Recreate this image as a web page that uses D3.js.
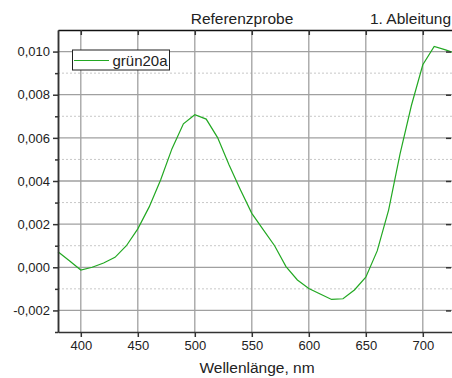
<!DOCTYPE html>
<html>
<head>
<script src="https://d3js.org/d3.v7.min.js"></script>
<style>
  body { margin: 0; background: #fff; }
  text { font-family: "Liberation Sans", Arial, sans-serif; fill: #222; }
</style>
</head>
<body>
<svg width="452" height="378"></svg>
<script>
// wavelength (nm) and first derivative values
var wavelength = [380, 390, 400, 410, 420, 430, 440, 450, 460, 470, 480, 490, 500, 510, 520, 530, 540, 550,
                  560, 570, 580, 590, 600, 610, 620, 630, 640, 650, 660, 670, 680, 690, 700, 710, 720, 730];
var gruen20a = [0.00072, 0.00030, -0.00013, 0.00000, 0.00020, 0.00046, 0.00100, 0.00178, 0.00280, 0.00405,
                0.00550, 0.00665, 0.00707, 0.00687, 0.00601, 0.00475, 0.00360, 0.00250,
                0.00175, 0.00100, 0.00003, -0.00059, -0.00098, -0.00124, -0.00149, -0.00146, -0.00105, -0.00046,
                0.00076, 0.00265, 0.00525, 0.00750, 0.00939, 0.01024, 0.01008, 0.00990];
var xTicks = [400, 450, 500, 550, 600, 650, 700];
var yTicks = [-0.002, 0, 0.002, 0.004, 0.006, 0.008, 0.010];
var yMinor = [-0.003, -0.001, 0.001, 0.003, 0.005, 0.007, 0.009];

var svg = d3.select("svg");
var pLeft = 58, pRight = 457, pTop = 30, pBottom = 332;

var x = d3.scaleLinear().domain([380, 730]).range([pLeft, pRight]);
var y = d3.scaleLinear().domain([-0.003, 0.011]).range([pBottom, pTop]);
var fmt = function(d) { return d3.format(".3f")(d).replace(".", ",").replace("−", "-"); };

// minor dotted grid
svg.append("g").selectAll("line").data(yMinor.slice(1)).enter().append("line")
   .attr("x1", pLeft).attr("x2", 452)
   .attr("y1", function(d) { return y(d); }).attr("y2", function(d) { return y(d); })
   .attr("stroke", "#c8c8c8").attr("stroke-dasharray", "2,2");

// major grid
svg.append("g").selectAll("line").data(yTicks).enter().append("line")
   .attr("x1", pLeft).attr("x2", 452)
   .attr("y1", function(d) { return y(d); }).attr("y2", function(d) { return y(d); })
   .attr("stroke", "#a0a0a0").attr("stroke-width", 1.3);
svg.append("g").selectAll("line").data(xTicks).enter().append("line")
   .attr("x1", function(d) { return x(d); }).attr("x2", function(d) { return x(d); })
   .attr("y1", pTop).attr("y2", pBottom)
   .attr("stroke", "#a0a0a0").attr("stroke-width", 1.3);

// data line
var line = d3.line()
   .x(function(d, i) { return x(wavelength[i]); })
   .y(function(d) { return y(d); });
svg.append("path").datum(gruen20a)
   .attr("d", line).attr("fill", "none")
   .attr("stroke", "#22a822").attr("stroke-width", 1.2);

// axes
var axisStyle = function(g) {
  g.select(".domain").attr("stroke", "#333").attr("stroke-width", 1.5);
  g.selectAll(".tick line").attr("stroke", "#333").attr("stroke-width", 1.5);
  g.selectAll("text").style("font-size", "13px").style("font-family", "Liberation Sans, Arial, sans-serif").attr("fill", "#222");
};

svg.append("g").attr("transform", "translate(0," + pBottom + ")")
   .call(d3.axisBottom(x).tickValues(xTicks).tickSize(5).tickPadding(4).tickSizeOuter(0))
   .call(axisStyle);
svg.append("g").attr("transform", "translate(0," + pTop + ")")
   .call(d3.axisTop(x).tickValues(xTicks).tickSize(-5).tickFormat("").tickSizeOuter(0))
   .call(function(g) { axisStyle(g); g.select(".domain").attr("stroke", "#111"); });

svg.append("g").attr("transform", "translate(" + pLeft + ",0)")
   .call(d3.axisLeft(y).tickValues(yTicks).tickFormat(fmt).tickSize(5).tickPadding(3).tickSizeOuter(0))
   .call(axisStyle);
svg.append("g").attr("transform", "translate(" + pLeft + ",0)")
   .call(d3.axisLeft(y).tickValues(yMinor).tickFormat("").tickSize(3).tickSizeOuter(0))
   .call(axisStyle);
svg.append("g").attr("transform", "translate(451,0)")
   .call(d3.axisRight(y).tickValues(yTicks).tickFormat("").tickSize(-5).tickSizeOuter(0))
   .call(function(g) { axisStyle(g); g.select(".domain").remove(); });

// titles
svg.append("text").attr("x", 242).attr("y", 24).attr("text-anchor", "middle")
   .style("font-size", "15.5px").text("Referenzprobe");
svg.append("text").attr("x", 451).attr("y", 24).attr("text-anchor", "end")
   .style("font-size", "15.5px").text("1. Ableitung");
svg.append("text").attr("x", 257).attr("y", 373).attr("text-anchor", "middle")
   .style("font-size", "15.5px").text("Wellenlänge, nm");

// legend
var lg = svg.append("g");
lg.append("rect").attr("x", 72.5).attr("y", 50).attr("width", 97).attr("height", 20)
  .attr("fill", "#fff").attr("stroke", "#222").attr("stroke-width", 1);
lg.append("line").attr("x1", 74).attr("x2", 109).attr("y1", 60.5).attr("y2", 60.5)
  .attr("stroke", "#22a822").attr("stroke-width", 1.2);
lg.append("text").attr("x", 112.5).attr("y", 65.5).style("font-size", "15px").text("grün20a");
</script>
</body>
</html>
